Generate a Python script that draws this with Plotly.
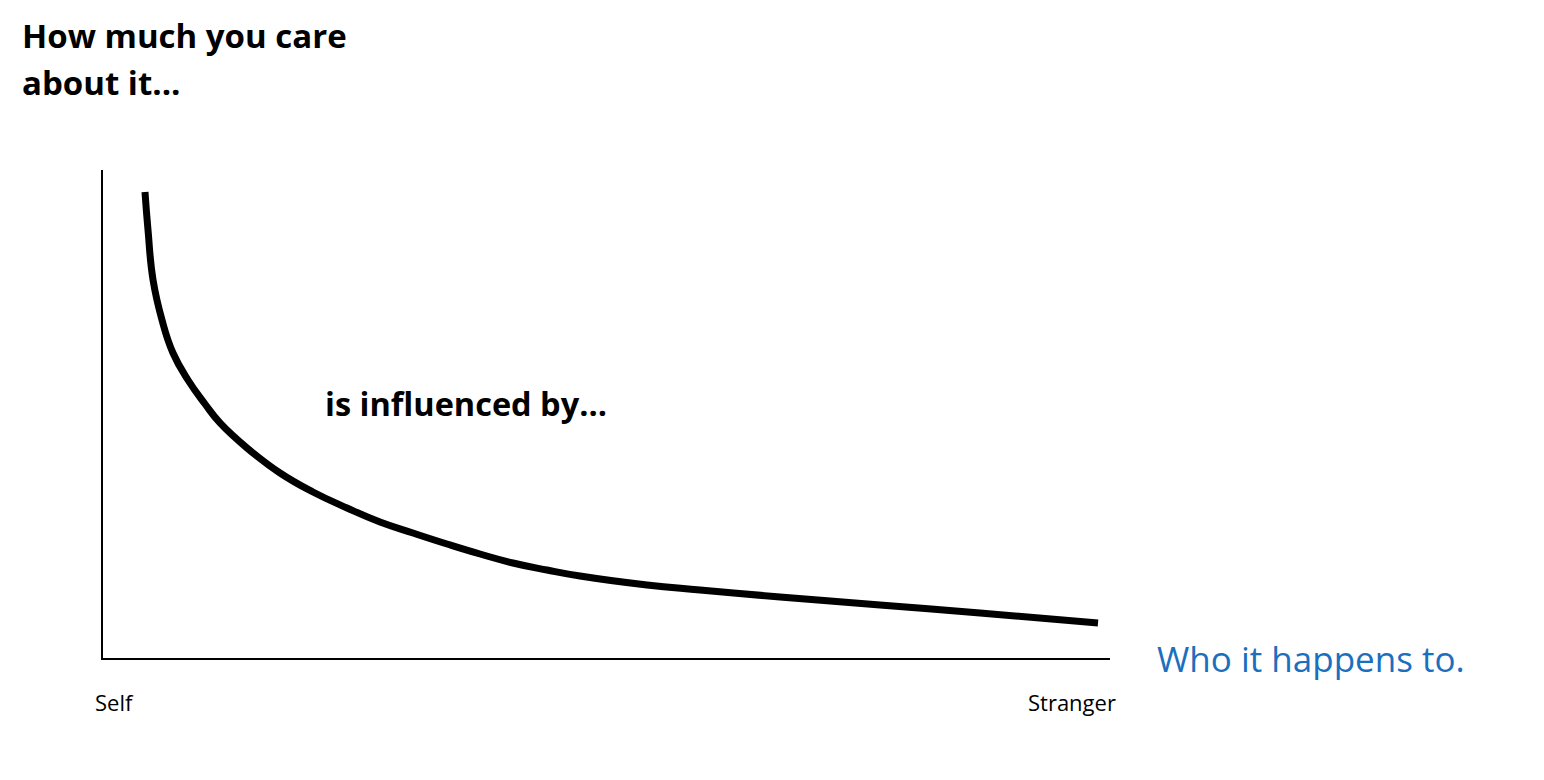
import plotly.graph_objects as go

# Data (x: position from Self=0 to Stranger=100; y: how much you care, 0-100)
curve_x = [4.17, 4.47, 4.97, 5.86, 6.95, 8.44, 10.13, 11.62, 14.30, 17.58, 20.85,
           24.23, 27.51, 30.78, 34.16, 37.44, 40.71, 44.09, 47.37, 54.02, 59.29,
           67.23, 77.16, 87.09, 98.81]
curve_y = [95.49, 87.70, 77.46, 69.26, 62.50, 56.97, 52.05, 48.16, 43.03, 37.91, 34.02,
           30.74, 27.87, 25.61, 23.36, 21.31, 19.47, 18.03, 16.80, 14.96, 13.93,
           12.50, 10.86, 9.22, 7.17]

title_lines = ["How much you care", "about it..."]
middle_label = "is influenced by..."
x_title = "Who it happens to."
x_end_labels = ["Self", "Stranger"]

FONT = "Open Sans"

fig = go.Figure()
fig.add_trace(go.Scatter(
    x=curve_x, y=curve_y, mode="lines",
    line=dict(color="black", width=7, shape="spline", smoothing=1.3),
    hoverinfo="skip", showlegend=False,
))

annotations = [
    dict(text=f"<b>{title_lines[0]}</b>", x=-0.0824, y=1.2746,
         font=dict(size=33, color="black", family=FONT)),
    dict(text=f"<b>{title_lines[1]}</b>", x=-0.0824, y=1.1783,
         font=dict(size=33, color="black", family=FONT)),
    dict(text=f"<b>{middle_label}</b>", x=0.2180, y=0.5205,
         font=dict(size=32.5, color="black", family=FONT)),
    dict(text=x_title, x=1.0447, y=-0.002,
         font=dict(size=35, color="#1a6fbe", family=FONT)),
    dict(text=x_end_labels[0], x=-0.0099, y=-0.0902,
         font=dict(size=22, color="black", family=FONT)),
    dict(text=x_end_labels[1], x=0.9170, y=-0.0902,
         font=dict(size=22, color="black", family=FONT)),
]
for a in annotations:
    a.update(xref="paper", yref="paper", xanchor="left", yanchor="middle",
             showarrow=False)

fig.update_layout(
    width=1544, height=780, autosize=False,
    margin=dict(l=95, r=442, t=162, b=130),
    paper_bgcolor="white", plot_bgcolor="white",
    annotations=annotations,
    xaxis=dict(range=[0, 100], showline=True, linecolor="black", linewidth=2,
               showgrid=False, zeroline=False, showticklabels=False, ticks=""),
    yaxis=dict(range=[0, 100], showline=True, linecolor="black", linewidth=2,
               showgrid=False, zeroline=False, showticklabels=False, ticks=""),
    showlegend=False,
)

fig.write_html("out.html", config={"displayModeBar": False})
